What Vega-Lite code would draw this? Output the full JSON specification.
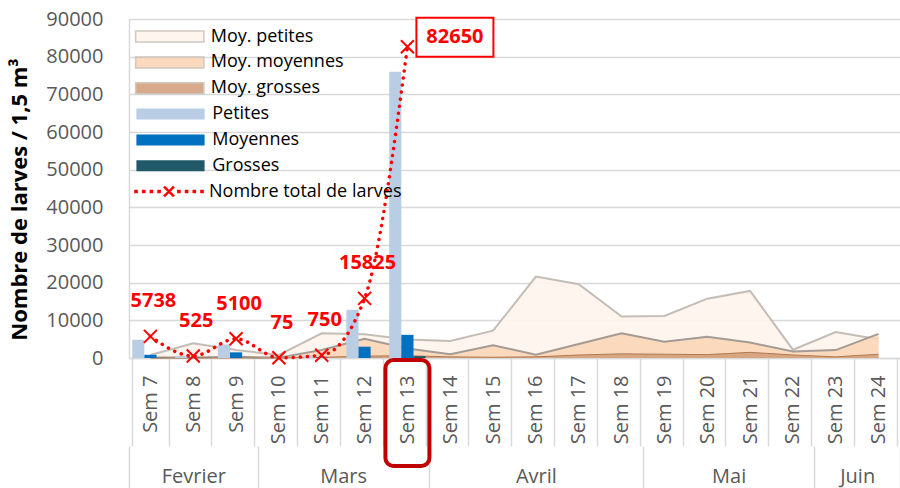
{
  "$schema": "https://vega.github.io/schema/vega-lite/v6.json",
  "width": 771,
  "height": 339,
  "autosize": {"type": "none"},
  "padding": {"left": 129, "top": 19, "right": 0, "bottom": 130},
  "background": "white",
  "config": {"font": "Open Sans", "view": {"stroke": null}},
  "datasets": {
    "weeks": [
      {"week": "Sem 7", "mp": 800, "mm": 100, "mg": 0, "total": 5738},
      {"week": "Sem 8", "mp": 3900, "mm": 100, "mg": 0, "total": 525},
      {"week": "Sem 9", "mp": 2100, "mm": 300, "mg": 0, "total": 5100},
      {"week": "Sem 10", "mp": 800, "mm": 100, "mg": 0, "total": 75},
      {"week": "Sem 11", "mp": 6550, "mm": 2100, "mg": 200, "total": 750},
      {"week": "Sem 12", "mp": 6300, "mm": 5100, "mg": 500, "total": 15825},
      {"week": "Sem 13", "mp": 4900, "mm": 2500, "mg": 600, "total": 82650},
      {"week": "Sem 14", "mp": 4500, "mm": 1000, "mg": 300, "total": null},
      {"week": "Sem 15", "mp": 7250, "mm": 3400, "mg": 200, "total": null},
      {"week": "Sem 16", "mp": 21600, "mm": 900, "mg": 300, "total": null},
      {"week": "Sem 17", "mp": 19600, "mm": 3700, "mg": 800, "total": null},
      {"week": "Sem 18", "mp": 11000, "mm": 6550, "mg": 1100, "total": null},
      {"week": "Sem 19", "mp": 11150, "mm": 4300, "mg": 1000, "total": null},
      {"week": "Sem 20", "mp": 15750, "mm": 5650, "mg": 900, "total": null},
      {"week": "Sem 21", "mp": 17800, "mm": 4100, "mg": 1500, "total": null},
      {"week": "Sem 22", "mp": 2200, "mm": 1700, "mg": 800, "total": null},
      {"week": "Sem 23", "mp": 6900, "mm": 2100, "mg": 300, "total": null},
      {"week": "Sem 24", "mp": 5000, "mm": 6400, "mg": 1000, "total": null}
    ],
    "bars": [
      {"week": "Sem 7", "size": "Petites", "value": 4850},
      {"week": "Sem 7", "size": "Moyennes", "value": 850},
      {"week": "Sem 7", "size": "Grosses", "value": 38},
      {"week": "Sem 8", "size": "Petites", "value": 400},
      {"week": "Sem 8", "size": "Moyennes", "value": 100},
      {"week": "Sem 8", "size": "Grosses", "value": 25},
      {"week": "Sem 9", "size": "Petites", "value": 3600},
      {"week": "Sem 9", "size": "Moyennes", "value": 1500},
      {"week": "Sem 9", "size": "Grosses", "value": 0},
      {"week": "Sem 10", "size": "Petites", "value": 50},
      {"week": "Sem 10", "size": "Moyennes", "value": 25},
      {"week": "Sem 10", "size": "Grosses", "value": 0},
      {"week": "Sem 11", "size": "Petites", "value": 600},
      {"week": "Sem 11", "size": "Moyennes", "value": 150},
      {"week": "Sem 11", "size": "Grosses", "value": 0},
      {"week": "Sem 12", "size": "Petites", "value": 12800},
      {"week": "Sem 12", "size": "Moyennes", "value": 3000},
      {"week": "Sem 12", "size": "Grosses", "value": 25},
      {"week": "Sem 13", "size": "Petites", "value": 76000},
      {"week": "Sem 13", "size": "Moyennes", "value": 6150},
      {"week": "Sem 13", "size": "Grosses", "value": 500}
    ],
    "months": [
      {"month": "Fevrier", "start": 0},
      {"month": "Mars", "start": 3},
      {"month": "Avril", "start": 7},
      {"month": "Mai", "start": 12},
      {"month": "Juin", "start": 16}
    ]
  },
  "layer": [
    {
      "layer": [
        {
          "data": {"name": "weeks"},
          "mark": {"type": "area", "opacity": 0.9},
          "encoding": {
            "x": {
              "field": "week", "type": "nominal", "sort": null,
              "scale": {"type": "band", "domain": ["Sem 7","Sem 8","Sem 9","Sem 10","Sem 11","Sem 12","Sem 13","Sem 14","Sem 15","Sem 16","Sem 17","Sem 18","Sem 19","Sem 20","Sem 21","Sem 22","Sem 23","Sem 24"], "paddingInner": 0.15, "paddingOuter": 0.075},
              "axis": {
                "title": null, "labelAngle": -90, "labelFontSize": 20, "labelColor": "#595959",
                "labelPadding": -71, "tickBand": "extent", "tickSize": 88, "tickColor": "#d9d9d9",
                "tickWidth": 1.5, "domainColor": "#d9d9d9", "domainWidth": 1.5, "grid": false
              }
            },
            "y": {
              "field": "mp", "type": "quantitative", "stack": null,
              "scale": {"domain": [0, 90000], "nice": false},
              "axis": {
                "title": "Nombre de larves / 1,5 m³", "titleFontSize": 22, "titleFontWeight": "bold",
                "titleColor": "#000000", "titlePadding": 14, "titleY": 180,
                "values": [0, 10000, 20000, 30000, 40000, 50000, 60000, 70000, 80000, 90000],
                "tickCount": 10, "labelOverlap": false,
                "format": "d", "labelFontSize": 20, "labelColor": "#595959", "labelPadding": 26,
                "ticks": false, "grid": true, "gridColor": "#d9d9d9", "gridWidth": 1.5,
                "domainColor": "#d9d9d9", "domainWidth": 1.5
              }
            },
            "fill": {
              "datum": "Moy. petites", "type": "nominal",
              "scale": {"domain": ["Moy. petites", "Moy. moyennes", "Moy. grosses"], "range": ["#fdf4ec", "#fad3b4", "#d09c76"]},
              "legend": {
                "title": null, "orient": "none", "legendX": 31.75, "legendY": 8.5, "padding": 0,
                "symbolType": "M-6.2,-1H6.2V1H-6.2Z", "symbolSize": 121, "symbolStrokeColor": "#c8bfb7",
                "symbolStrokeWidth": 1.5, "symbolOpacity": 1,
                "labelFontSize": 18, "labelColor": "#000000", "labelOffset": 32, "rowPadding": 7.9
              }
            }
          }
        },
        {
          "data": {"name": "weeks"},
          "mark": {"type": "line", "color": "#c4bdb6", "strokeWidth": 2},
          "encoding": {
            "x": {"field": "week", "type": "nominal", "sort": null},
            "y": {"field": "mp", "type": "quantitative"}
          }
        },
        {
          "data": {"name": "weeks"},
          "mark": {"type": "area", "opacity": 0.85},
          "encoding": {
            "x": {"field": "week", "type": "nominal", "sort": null},
            "y": {"field": "mm", "type": "quantitative", "stack": null},
            "fill": {"datum": "Moy. moyennes", "type": "nominal"}
          }
        },
        {
          "data": {"name": "weeks"},
          "mark": {"type": "line", "color": "#a39b94", "strokeWidth": 2},
          "encoding": {
            "x": {"field": "week", "type": "nominal", "sort": null},
            "y": {"field": "mm", "type": "quantitative"}
          }
        },
        {
          "data": {"name": "weeks"},
          "mark": {"type": "area", "opacity": 0.85},
          "encoding": {
            "x": {"field": "week", "type": "nominal", "sort": null},
            "y": {"field": "mg", "type": "quantitative", "stack": null},
            "fill": {"datum": "Moy. grosses", "type": "nominal"}
          }
        },
        {
          "data": {"name": "weeks"},
          "mark": {"type": "line", "color": "#b07a55", "strokeWidth": 1},
          "encoding": {
            "x": {"field": "week", "type": "nominal", "sort": null},
            "y": {"field": "mg", "type": "quantitative"}
          }
        },
        {
          "data": {"name": "bars"},
          "mark": {"type": "bar"},
          "encoding": {
            "x": {"field": "week", "type": "nominal", "sort": null},
            "xOffset": {"field": "size", "type": "nominal", "scale": {"domain": ["Petites", "Moyennes", "Grosses"], "paddingInner": 0, "paddingOuter": 0}},
            "y": {"field": "value", "type": "quantitative", "stack": null},
            "color": {
              "field": "size", "type": "nominal",
              "scale": {"domain": ["Petites", "Moyennes", "Grosses"], "range": ["#b9cde5", "#0070c0", "#215968"]},
              "legend": {
                "title": null, "orient": "none", "legendX": 32.5, "legendY": 86, "padding": 0,
                "symbolType": "M-6.2,-1H6.2V1H-6.2Z", "symbolSize": 121, "symbolStrokeWidth": 0,
                "symbolOpacity": 1, "labelFontSize": 18, "labelColor": "#000000", "labelOffset": 32.7,
                "rowPadding": 7.9
              }
            }
          }
        },
        {
          "data": {"name": "weeks"},
          "mark": {"type": "line", "interpolate": "monotone", "strokeDash": [0.1, 7], "strokeWidth": 3.5, "strokeCap": "round", "color": "#ff0000"},
          "encoding": {
            "x": {"field": "week", "type": "nominal", "sort": null},
            "y": {"field": "total", "type": "quantitative"}
          }
        },
        {
          "data": {"name": "weeks"},
          "transform": [{"filter": "isValid(datum.total)"}],
          "mark": {"type": "point", "shape": "M-1,-1L1,1M-1,1L1,-1", "size": 169, "filled": false, "stroke": "#ff0000", "strokeWidth": 2, "opacity": 1},
          "encoding": {
            "x": {"field": "week", "type": "nominal", "sort": null},
            "y": {"field": "total", "type": "quantitative"}
          }
        },
        {
          "data": {"name": "weeks"},
          "transform": [{"filter": "datum.total > 1000000000"}],
          "mark": {"type": "point", "filled": false, "stroke": "#ff0000", "strokeWidth": 2.5, "opacity": 1},
          "encoding": {
            "x": {"field": "week", "type": "nominal", "sort": null},
            "y": {"field": "total", "type": "quantitative"},
            "shape": {
              "datum": "Nombre total de larves", "type": "nominal",
              "scale": {"domain": ["Nombre total de larves"], "range": ["M-6.1,-0.1h0.2v0.2h-0.2ZM-4.7,-0.1h0.2v0.2h-0.2ZM-3.3,-0.1h0.2v0.2h-0.2ZM-1.9,-0.1h0.2v0.2h-0.2ZM1.7,-0.1h0.2v0.2h-0.2ZM3.1,-0.1h0.2v0.2h-0.2ZM4.5,-0.1h0.2v0.2h-0.2ZM5.9,-0.1h0.2v0.2h-0.2ZM-0.9,-0.9L0.9,0.9M-0.9,0.9L0.9,-0.9"]},
              "legend": {
                "title": null, "orient": "none", "legendX": 31, "legendY": 163.5, "padding": 0,
                "symbolSize": 121, "symbolStrokeColor": "#ff0000", "symbolFillColor": "transparent",
                "symbolStrokeWidth": 2.5, "symbolOpacity": 1, "labelLimit": 400,
                "labelFontSize": 18, "labelColor": "#000000", "labelOffset": 31
              }
            }
          }
        },
        {
          "data": {"name": "weeks"},
          "transform": [{"filter": "isValid(datum.total) && datum.total < 80000"}],
          "mark": {"type": "text", "fontSize": 20, "fontWeight": "bold", "color": "#ff0000", "dy": -35, "dx": 3, "baseline": "middle", "align": "center"},
          "encoding": {
            "x": {"field": "week", "type": "nominal", "sort": null},
            "y": {"field": "total", "type": "quantitative"},
            "text": {"field": "total", "type": "quantitative", "format": "d"}
          }
        },
        {
          "data": {"name": "weeks"},
          "transform": [{"filter": "datum.week === 'Sem 13'"}],
          "mark": {"type": "point", "shape": "M0.45,-1.45H4.3V0.5H0.45Z", "size": 1600, "filled": true, "fill": "#ffffff", "stroke": "#ff0000", "strokeWidth": 2, "opacity": 1},
          "encoding": {
            "x": {"field": "week", "type": "nominal", "sort": null},
            "y": {"field": "total", "type": "quantitative"}
          }
        },
        {
          "data": {"name": "weeks"},
          "transform": [{"filter": "datum.week === 'Sem 13'"}],
          "mark": {"type": "text", "fontSize": 20, "fontWeight": "bold", "color": "#ff0000", "dx": 47.5, "dy": -9.5, "baseline": "middle", "align": "center"},
          "encoding": {
            "x": {"field": "week", "type": "nominal", "sort": null},
            "y": {"field": "total", "type": "quantitative"},
            "text": {"field": "total", "type": "quantitative", "format": "d"}
          }
        },
        {
          "data": {"name": "weeks"},
          "transform": [{"filter": "datum.week === 'Sem 13'"}],
          "mark": {"type": "point", "shape": "M-0.28,0.04H0.28A0.16,0.16 0 0 1 0.44,0.2V2A0.16,0.16 0 0 1 0.28,2.16H-0.28A0.16,0.16 0 0 1 -0.44,2V0.2A0.16,0.16 0 0 1 -0.28,0.04Z", "size": 10000, "filled": false, "stroke": "#c00000", "strokeWidth": 4, "opacity": 1},
          "encoding": {
            "x": {"field": "week", "type": "nominal", "sort": null},
            "y": {"datum": 0, "type": "quantitative"}
          }
        }
      ]
    },
    {
      "data": {"name": "months"},
      "mark": {"type": "point", "opacity": 0},
      "encoding": {
        "x": {
          "field": "start", "type": "quantitative",
          "scale": {"domain": [0, 18], "nice": false, "zero": false},
          "axis": {
            "orient": "bottom", "offset": 88, "title": null, "domain": false, "grid": false,
            "values": [0, 1.5, 3, 5, 7, 9.5, 12, 14, 16, 17, 18],
            "tickSize": 42, "tickColor": "#d9d9d9", "tickWidth": 1.5,
            "tickOpacity": {"condition": {"test": "datum.value === 0 || datum.value === 3 || datum.value === 7 || datum.value === 12 || datum.value === 16 || datum.value === 18", "value": 1}, "value": 0},
            "labelExpr": "datum.value === 1.5 ? 'Fevrier' : datum.value === 5 ? 'Mars' : datum.value === 9.5 ? 'Avril' : datum.value === 14 ? 'Mai' : datum.value === 17 ? 'Juin' : ''",
            "labelFontSize": 20, "labelColor": "#595959", "labelPadding": -22, "labelAngle": 0,
            "labelFlush": false, "labelOverlap": false
          }
        }
      }
    }
  ],
  "resolve": {"scale": {"x": "independent"}}
}
